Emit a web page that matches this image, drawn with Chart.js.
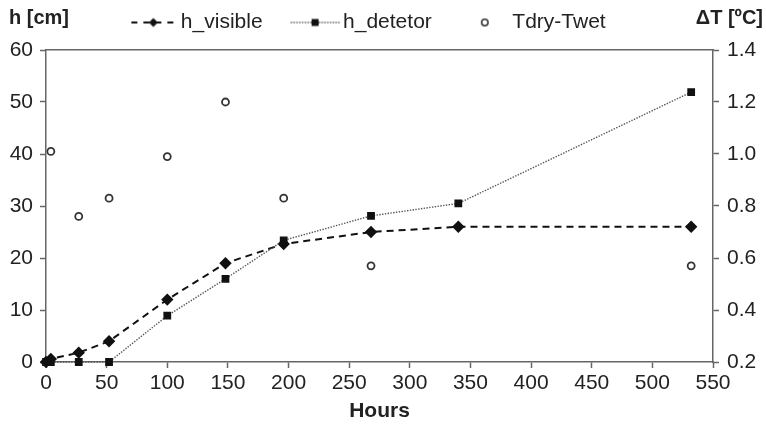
<!DOCTYPE html>
<html>
<head>
<meta charset="utf-8">
<script src="https://cdn.jsdelivr.net/npm/chart.js@4"></script>
<style>
  html, body { margin: 0; padding: 0; background: #fff; }
  #wrap { width: 766px; height: 424px; }
</style>
</head>
<body>
<div id="wrap"><canvas id="chart" width="766" height="424"></canvas></div>
<script>
// ================= DATA =================
const hours = [0, 4, 27, 52, 100, 148, 196, 268, 340, 532];
const hVisible = [0, 0.6, 1.8, 4, 12, 19, 22.7, 25, 26, 26];
const hDetetor = [0, 0, 0, 0, 8.9, 16, 23.4, 28.1, 30.5, 51.9];

const dtHours = [4, 27, 52, 100, 148, 196, 268, 532];
const dtValues = [1.01, 0.76, 0.83, 0.99, 1.20, 0.83, 0.57, 0.57];

const FONT = "'Liberation Sans', Arial, sans-serif";
const TEXT = "#222";
const AXIS = "#666";

// ================= LEGEND SYMBOLS =================
function symbol(draw) {
  const c = document.createElement("canvas");
  c.width = 90;
  c.height = 14;
  const g = c.getContext("2d");
  draw(g);
  return c;
}

const symVisible = symbol(g => {
  g.strokeStyle = "#111";
  g.lineWidth = 2;
  g.setLineDash([6, 6]);
  g.beginPath(); g.moveTo(36, 7); g.lineTo(80, 7); g.stroke();
  g.setLineDash([]);
  g.fillStyle = "#111";
  g.beginPath(); g.moveTo(58, 2.5); g.lineTo(62.5, 7); g.lineTo(58, 11.5); g.lineTo(53.5, 7); g.closePath(); g.fill();
});

const symDetetor = symbol(g => {
  g.strokeStyle = "#555";
  g.lineWidth = 1.4;
  g.setLineDash([1.4, 1.4]);
  g.beginPath(); g.moveTo(33, 7); g.lineTo(82, 7); g.stroke();
  g.fillStyle = "#111";
  g.fillRect(54, 3.5, 7, 7);
});

const symDt = symbol(g => {
  g.strokeStyle = "#333";
  g.lineWidth = 1.5;
  g.beginPath(); g.arc(58, 7, 3.2, 0, Math.PI * 2); g.stroke();
});

// ================= PLUGINS =================
const cornerTitles = {
  id: "cornerTitles",
  afterLayout(chart) {
    // legend sits a bit left of the canvas centre in the original
    chart.legend.right -= 50;
  },
  afterDraw(chart) {
    const ctx = chart.ctx;
    ctx.save();
    ctx.fillStyle = TEXT;
    ctx.font = "bold 20px " + FONT;
    ctx.textBaseline = "middle";
    ctx.textAlign = "left";
    ctx.fillText("h [cm]", 9, 18);
    ctx.textAlign = "right";
    ctx.fillText("\u0394T [\u00BAC]", 763, 18);
    ctx.restore();
  }
};

const tickFont = { family: FONT, size: 21 };
const tickGrid = { drawOnChartArea: false, drawTicks: true, tickLength: 6, tickColor: AXIS, tickWidth: 1.5 };
const axisBorder = { display: true, color: AXIS, width: 1.5 };

// ================= CHART =================
const chart = new Chart(document.getElementById("chart"), {
  type: "line",
  data: {
    datasets: [
      {
        label: "h_visible",
        data: hours.map((x, i) => ({ x: x, y: hVisible[i] })),
        borderColor: "#111",
        backgroundColor: "#111",
        borderWidth: 2,
        borderDash: [7, 5],
        pointStyle: "rectRot",
        pointRadius: 4.8,
        yAxisID: "y",
        clip: false,
        legendSymbol: symVisible,
        order: 2
      },
      {
        label: "h_detetor",
        data: hours.map((x, i) => ({ x: x, y: hDetetor[i] })),
        borderColor: "#555",
        backgroundColor: "#111",
        borderWidth: 1.4,
        borderDash: [1.4, 1.4],
        pointStyle: "rect",
        pointRadius: 4.5,
        pointBorderColor: "#111",
        yAxisID: "y",
        clip: false,
        legendSymbol: symDetetor,
        order: 1
      },
      {
        label: "Tdry-Twet",
        data: dtHours.map((x, i) => ({ x: x, y: dtValues[i] })),
        showLine: false,
        borderColor: "#333",
        backgroundColor: "#fff",
        borderWidth: 1.8,
        pointStyle: "circle",
        pointRadius: 3.5,
        yAxisID: "y2",
        clip: false,
        legendSymbol: symDt,
        order: 3
      }
    ]
  },
  options: {
    animation: false,
    responsive: false,
    layout: { padding: { top: 2, left: 0, right: 0, bottom: 0 } },
    plugins: {
      tooltip: { enabled: false },
      legend: {
        display: true,
        labels: {
          usePointStyle: true,
          pointStyleWidth: 60,
          padding: 10,
          color: TEXT,
          font: { family: FONT, size: 21 },
          generateLabels(chart) {
            return chart.data.datasets.map((d, i) => ({
              text: d.label,
              pointStyle: d.legendSymbol,
              datasetIndex: i,
              fontColor: TEXT,
              lineWidth: 0
            }));
          }
        }
      }
    },
    scales: {
      x: {
        type: "linear",
        position: "bottom",
        min: 0,
        max: 550,
        ticks: { stepSize: 50, color: TEXT, font: tickFont, padding: 3, maxRotation: 0 },
        grid: tickGrid,
        border: axisBorder,
        title: { display: true, text: "Hours", color: TEXT, font: { family: FONT, size: 21, weight: "bold" }, padding: 0 },
        afterFit(s) { s.height = 62; }
      },
      x2: {
        type: "linear",
        position: "top",
        min: 0,
        max: 550,
        ticks: { display: false },
        grid: { drawOnChartArea: false, drawTicks: false },
        border: axisBorder,
        afterFit(s) { s.height = 7; }
      },
      y: {
        position: "left",
        min: 0,
        max: 60,
        ticks: { stepSize: 10, color: TEXT, font: tickFont, padding: 7 },
        grid: tickGrid,
        border: axisBorder,
        afterFit(s) { s.width = 46; }
      },
      y2: {
        position: "right",
        min: 0.2,
        max: 1.4,
        ticks: { stepSize: 0.2, color: TEXT, font: tickFont, padding: 8,
          callback: v => v.toFixed(1) },
        grid: tickGrid,
        border: axisBorder,
        afterFit(s) { s.width = 53; }
      }
    }
  },
  plugins: [cornerTitles]
});
</script>
</body>
</html>
